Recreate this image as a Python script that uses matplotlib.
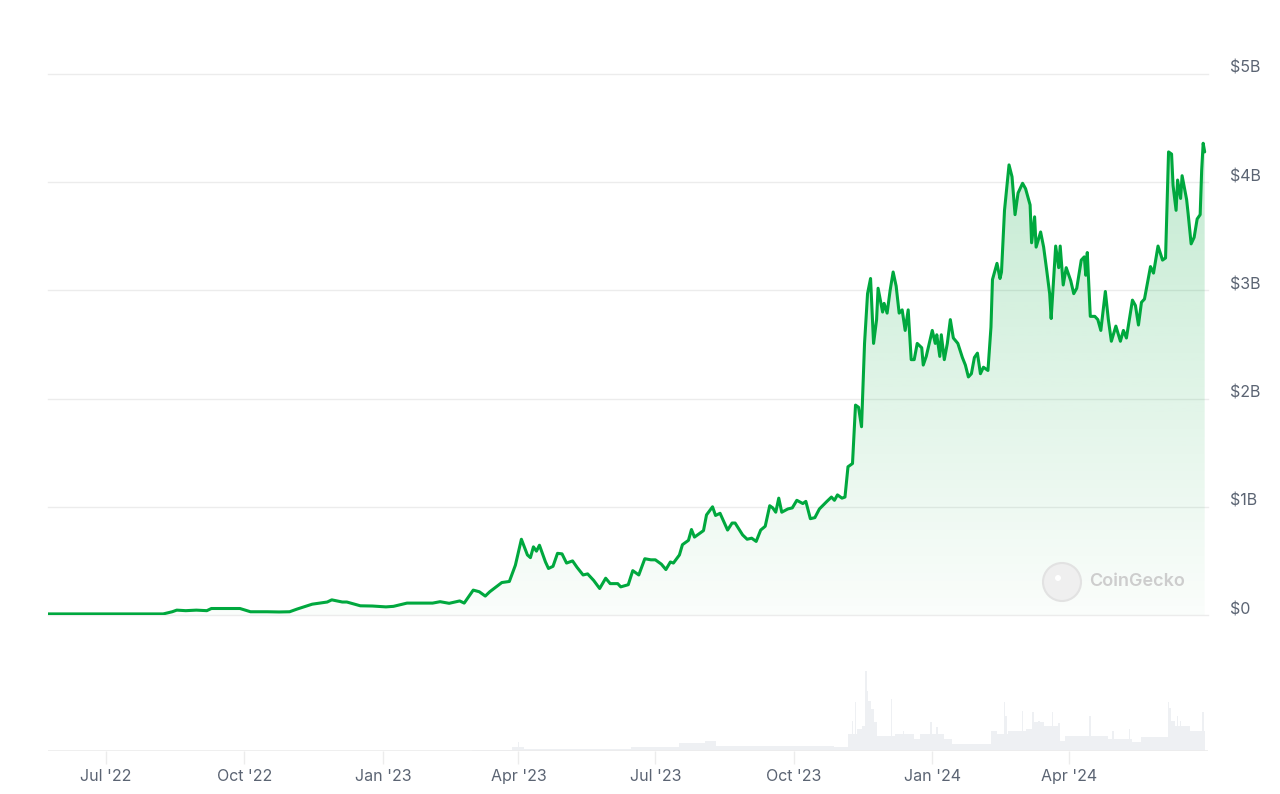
import matplotlib
matplotlib.use("Agg")
import matplotlib.pyplot as plt
import matplotlib.dates as mdates
import matplotlib.transforms as mtransforms
from matplotlib.patches import Circle, Polygon
import numpy as np
import pandas as pd

# market cap (in $B)
price_dates = [
    "2022-05-23", "2022-08-08", "2022-08-14", "2022-08-17", "2022-08-23", "2022-08-30",
    "2022-09-06", "2022-09-09", "2022-09-19", "2022-09-28", "2022-10-05", "2022-10-16",
    "2022-10-24", "2022-10-31", "2022-11-05", "2022-11-15", "2022-11-20", "2022-11-25",
    "2022-11-28", "2022-12-05", "2022-12-08", "2022-12-17", "2022-12-25", "2023-01-03",
    "2023-01-08", "2023-01-17", "2023-01-23", "2023-02-03", "2023-02-08",
    "2023-02-14", "2023-02-21", "2023-02-24", "2023-03-02", "2023-03-06", "2023-03-10",
    "2023-03-13", "2023-03-21", "2023-03-26", "2023-03-30", "2023-04-03", "2023-04-07",
    "2023-04-09", "2023-04-11", "2023-04-13", "2023-04-15", "2023-04-19", "2023-04-21",
    "2023-04-24", "2023-04-27", "2023-04-30", "2023-05-03", "2023-05-07", "2023-05-10",
    "2023-05-14", "2023-05-17", "2023-05-21", "2023-05-25", "2023-05-29", "2023-06-01",
    "2023-06-06", "2023-06-08", "2023-06-13", "2023-06-16", "2023-06-20", "2023-06-24",
    "2023-06-28", "2023-07-01", "2023-07-05", "2023-07-08", "2023-07-11", "2023-07-13",
    "2023-07-17", "2023-07-19", "2023-07-23", "2023-07-25", "2023-07-27", "2023-07-29",
    "2023-08-02", "2023-08-04", "2023-08-08", "2023-08-10", "2023-08-13", "2023-08-18",
    "2023-08-21", "2023-08-23", "2023-08-28", "2023-08-31", "2023-09-03", "2023-09-06",
    "2023-09-09", "2023-09-12", "2023-09-15", "2023-09-17", "2023-09-19", "2023-09-21",
    "2023-09-23", "2023-09-27", "2023-09-30", "2023-10-03", "2023-10-07", "2023-10-09",
    "2023-10-12", "2023-10-15", "2023-10-18", "2023-10-23", "2023-10-26", "2023-10-28",
    "2023-10-30", "2023-11-02", "2023-11-04", "2023-11-06", "2023-11-09", "2023-11-11",
    "2023-11-13", "2023-11-15", "2023-11-17", "2023-11-19", "2023-11-21", "2023-11-23",
    "2023-11-25", "2023-11-26", "2023-11-29", "2023-11-30", "2023-12-02", "2023-12-04",
    "2023-12-06", "2023-12-08", "2023-12-10", "2023-12-12", "2023-12-14", "2023-12-16",
    "2023-12-18", "2023-12-20", "2023-12-22", "2023-12-25", "2023-12-26", "2023-12-28",
    "2024-01-01", "2024-01-03", "2024-01-04", "2024-01-06", "2024-01-07", "2024-01-09",
    "2024-01-11", "2024-01-13", "2024-01-15", "2024-01-18", "2024-01-21", "2024-01-23",
    "2024-01-25", "2024-01-27", "2024-01-29", "2024-01-31", "2024-02-02", "2024-02-04",
    "2024-02-07", "2024-02-09", "2024-02-10", "2024-02-13", "2024-02-15", "2024-02-16",
    "2024-02-18", "2024-02-21", "2024-02-23", "2024-02-25", "2024-02-27", "2024-03-01",
    "2024-03-03", "2024-03-06", "2024-03-07", "2024-03-09", "2024-03-10", "2024-03-13",
    "2024-03-15", "2024-03-17", "2024-03-19", "2024-03-20", "2024-03-23", "2024-03-25",
    "2024-03-26", "2024-03-28", "2024-03-30", "2024-04-02", "2024-04-04", "2024-04-06",
    "2024-04-09", "2024-04-11", "2024-04-12", "2024-04-13", "2024-04-15", "2024-04-18",
    "2024-04-20", "2024-04-22", "2024-04-25", "2024-04-27", "2024-04-29", "2024-05-02",
    "2024-05-05", "2024-05-07", "2024-05-09", "2024-05-13", "2024-05-15", "2024-05-17",
    "2024-05-19", "2024-05-21", "2024-05-25", "2024-05-27", "2024-05-29", "2024-05-30",
    "2024-06-02", "2024-06-04", "2024-06-06", "2024-06-08", "2024-06-09", "2024-06-11",
    "2024-06-12", "2024-06-14", "2024-06-15", "2024-06-18", "2024-06-19", "2024-06-21",
    "2024-06-23", "2024-06-25", "2024-06-27", "2024-06-28", "2024-06-29", "2024-06-30",
]
price_b = [
    0.01, 0.01, 0.03, 0.045, 0.04, 0.045,
    0.04, 0.06, 0.06, 0.06, 0.03, 0.03,
    0.028, 0.03, 0.055, 0.10, 0.11, 0.12,
    0.14, 0.12, 0.12, 0.085, 0.083, 0.075,
    0.08, 0.11, 0.11, 0.11, 0.123,
    0.108, 0.13, 0.11, 0.23, 0.215, 0.175,
    0.215, 0.30, 0.31, 0.46, 0.70, 0.555,
    0.53, 0.63, 0.59, 0.645, 0.49, 0.43,
    0.45, 0.57, 0.565, 0.48, 0.50, 0.44,
    0.37, 0.38, 0.32, 0.245, 0.34, 0.29,
    0.29, 0.26, 0.28, 0.41, 0.37, 0.52,
    0.51, 0.51, 0.47, 0.42, 0.49, 0.48,
    0.555, 0.65, 0.69, 0.79, 0.72, 0.74,
    0.78, 0.925, 1.00, 0.92, 0.94, 0.785,
    0.85, 0.85, 0.74, 0.70, 0.71, 0.68,
    0.785, 0.82, 1.01, 0.99, 0.95, 1.08,
    0.95, 0.98, 0.99, 1.06, 1.03, 1.05,
    0.89, 0.90, 0.98, 1.05, 1.09, 1.06,
    1.11, 1.08, 1.09, 1.37, 1.40, 1.94,
    1.92, 1.74, 2.51, 2.97, 3.11, 2.51,
    2.73, 3.02, 2.80, 2.88, 2.79, 3.00,
    3.17, 3.04, 2.79, 2.82, 2.63, 2.82,
    2.36, 2.36, 2.51, 2.47, 2.31, 2.39,
    2.63, 2.51, 2.59, 2.39, 2.59, 2.36,
    2.51, 2.73, 2.56, 2.51, 2.38, 2.31,
    2.20, 2.23, 2.38, 2.42, 2.23, 2.29,
    2.26, 2.66, 3.10, 3.25, 3.11, 3.17,
    3.74, 4.16, 4.05, 3.70, 3.90, 3.99,
    3.94, 3.79, 3.44, 3.68, 3.40, 3.54,
    3.40, 3.19, 2.97, 2.74, 3.41, 3.21,
    3.41, 3.05, 3.21, 3.09, 2.97, 3.02,
    3.28, 3.31, 3.14, 3.35, 2.76, 2.76,
    2.73, 2.63, 2.99, 2.73, 2.53, 2.67,
    2.53, 2.63, 2.56, 2.91, 2.86, 2.68,
    2.89, 2.92, 3.22, 3.16, 3.33, 3.41,
    3.28, 3.30, 4.28, 4.26, 3.97, 3.74,
    4.02, 3.85, 4.06, 3.84, 3.71, 3.43,
    3.49, 3.66, 3.70, 4.11, 4.36, 4.28,
]

# trading volume (arbitrary $M scale): the general level ...
vol_dates = [
    "2022-05-23", "2022-09-01", "2023-01-01", "2023-03-01", "2023-03-28", "2023-04-05",
    "2023-06-15", "2023-07-17", "2023-08-03", "2023-08-10", "2023-10-28", "2023-11-06",
    "2023-11-12", "2023-11-15", "2023-11-19", "2023-11-21", "2023-11-23", "2023-11-25",
    "2023-12-07", "2023-12-20", "2023-12-24", "2024-01-08", "2024-01-14", "2024-02-09",
    "2024-02-13", "2024-02-20", "2024-03-03", "2024-03-07", "2024-03-15", "2024-03-26",
    "2024-03-29", "2024-04-16", "2024-04-27", "2024-05-13", "2024-05-19", "2024-06-06",
    "2024-06-10", "2024-06-20", "2024-06-30",
]
vol_m = [
    0, 3, 5, 10, 40, 25,
    40, 80, 100, 50, 40, 170,
    220, 250, 500, 420, 290, 150,
    170, 120, 170, 120, 70, 200,
    170, 200, 220, 290, 250, 100,
    150, 150, 120, 90, 140, 300,
    250, 200, 200,
]
# ... and the single-day spikes on top of it
spike_dates = [
    "2023-04-01", "2023-11-09", "2023-11-11", "2023-11-18", "2023-11-19", "2023-11-20",
    "2023-12-05", "2023-12-13", "2023-12-31", "2024-01-04", "2024-01-08", "2024-02-18",
    "2024-02-19", "2024-03-01", "2024-03-08", "2024-03-12", "2024-03-21", "2024-03-25",
    "2024-04-15", "2024-04-30", "2024-05-11", "2024-06-06", "2024-06-07", "2024-06-12",
    "2024-06-14", "2024-06-29",
]
spike_m = [
    90, 300, 490, 800, 600, 480,
    520, 200, 290, 240, 170, 490,
    350, 400, 390, 300, 390, 280,
    350, 200, 220, 490, 430, 350,
    300, 390,
]

price_x = mdates.date2num(pd.to_datetime(price_dates))
price_y = np.array(price_b) * 1e9
vol_x = mdates.date2num(pd.to_datetime(vol_dates))
vol_y = np.array(vol_m)
spike_x = mdates.date2num(pd.to_datetime(spike_dates))

green = "#00a83e"
label_color = "#5b6473"
grid_color = "#ececec"
vol_color = "#eef0f3"
x_min = mdates.date2num(pd.Timestamp("2022-05-23 11:00"))
x_max = mdates.date2num(pd.Timestamp("2024-07-02 05:00"))

plt.rcParams["font.family"] = ["Inter", "DejaVu Sans"]

W, H = 1280, 794
fig = plt.figure(figsize=(12.8, 7.94), dpi=100)

# price panel
ax = fig.add_axes([48 / W, (H - 615) / H, 1160 / W, 541 / H])
ax.set_xlim(x_min, x_max)
ax.set_ylim(0, 5e9)
for s in ax.spines.values():
    s.set_visible(False)
ax.set_yticks([0, 1e9, 2e9, 3e9, 4e9, 5e9])
ax.set_yticklabels(["$0", "$1B", "$2B", "$3B", "$4B", "$5B"])
ax.yaxis.tick_right()
ax.tick_params(axis="y", length=0, pad=16, labelsize=11.5, labelcolor=label_color)
ax.set_xticks([])
ax.grid(axis="y", color=grid_color, linewidth=1.0)
ax.set_axisbelow(True)
shift = mtransforms.ScaledTranslation(0, 7 / 100, fig.dpi_scale_trans)
for lab in ax.get_yticklabels():
    lab.set_transform(lab.get_transform() + shift)
for gl in ax.get_ygridlines():
    gl.set_clip_on(False)

# gradient fill under the line
verts = np.column_stack([
    np.concatenate([[price_x[0]], price_x, [price_x[-1]]]),
    np.concatenate([[0], price_y, [0]]),
])
clip = Polygon(verts, closed=True, facecolor="none", edgecolor="none",
               transform=ax.transData)
ax.add_patch(clip)
top = price_y.max()
n = 256
alpha = np.linspace(0.02, 0.02 + 0.05 * top / 1e9, n)[:, None]
rgba = np.zeros((n, 1, 4))
rgba[..., 1] = 168 / 255
rgba[..., 2] = 62 / 255
rgba[..., 3] = alpha
im = ax.imshow(rgba, extent=[price_x[0], price_x[-1], 0, top], origin="lower",
               aspect="auto", zorder=1, interpolation="bilinear")
im.set_clip_path(clip)
ax.plot(price_x, price_y, color=green, linewidth=2.2, solid_joinstyle="round",
        solid_capstyle="round", zorder=3)
ax.set_xlim(x_min, x_max)
ax.set_ylim(0, 5e9)

# volume panel
vax = fig.add_axes([48 / W, (H - 751) / H, 1160 / W, 100 / H])
vax.fill_between(vol_x, 0, vol_y, step="post", color=vol_color, linewidth=0)
vax.bar(spike_x, spike_m, width=1.1, color=vol_color, linewidth=0)
vax.set_xlim(x_min, x_max)
vax.set_ylim(0, 1000)
for s in vax.spines.values():
    s.set_visible(False)
vax.axhline(0, color="#ececec", linewidth=1.2)
vax.set_yticks([])
ticks = pd.to_datetime(["2022-07-01", "2022-10-01", "2023-01-01", "2023-04-01",
                        "2023-07-01", "2023-10-01", "2024-01-01", "2024-04-01"])
vax.set_xticks(mdates.date2num(ticks))
vax.set_xticklabels(["Jul '22", "Oct '22", "Jan '23", "Apr '23",
                     "Jul '23", "Oct '23", "Jan '24", "Apr '24"])
vax.tick_params(axis="x", length=9, width=1, color="#ececec", pad=4,
                labelsize=11.5, labelcolor=label_color)

# CoinGecko watermark
fig.patches.append(Circle((1062, H - 582), 19, transform=None, facecolor="#efefef",
                          edgecolor="#e2e2e2", linewidth=1.5, zorder=5))
fig.patches.append(Circle((1058, H - 578), 3, transform=None, facecolor="#ffffff",
                          edgecolor="none", zorder=6))
fig.text(1089 / W, (H - 581) / H, "CoinGecko", fontsize=13, color="#cdcdcd",
         fontweight="semibold", va="center", ha="left")

fig.savefig("out.png", dpi=100)
